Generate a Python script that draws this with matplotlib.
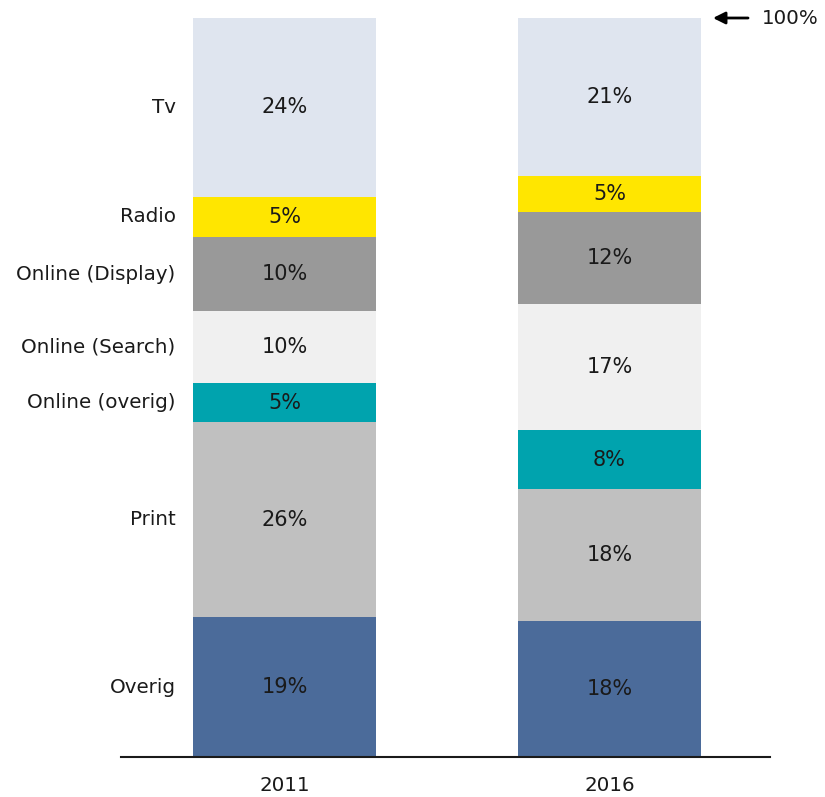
import matplotlib
matplotlib.use("Agg")
import matplotlib.pyplot as plt

years = ["2011", "2016"]
categories = ["Overig", "Print", "Online (overig)", "Online (Search)",
              "Online (Display)", "Radio", "Tv"]
share_2011 = [18.9, 26.4, 5.3, 9.7, 10.1, 5.4, 24.2]
share_2016 = [18.4, 17.8, 8.0, 17.1, 12.4, 4.9, 21.4]
colors = ["#4B6B9A", "#C0C0C0", "#00A3AE", "#F0F0F0",
          "#999999", "#FFE600", "#DFE5EF"]

W, H = 825, 797
fig = plt.figure(figsize=(W / 100, H / 100), dpi=100)
ax = fig.add_axes([121 / W, 1 - 757 / H, (770 - 121) / W, (757 - 18) / H])

series = [share_2011, share_2016]
xpos = [0, 1]
width = 0.563
font = "DejaVu Sans"
ink = "#1a1a1a"

for xi, vals in zip(xpos, series):
    bottom = 0
    for v, c in zip(vals, colors):
        ax.bar(xi, v, width=width, bottom=bottom, color=c, edgecolor="none")
        ax.text(xi, bottom + v / 2, f"{v:.0f}%", ha="center", va="center",
                fontsize=15, color=ink, family=font)
        bottom += v

# Category names beside the first bar
bottom = 0
for name, v in zip(categories, share_2011):
    ax.text(-0.335, bottom + v / 2, name, ha="right", va="center",
            fontsize=14.3, color=ink, family=font)
    bottom += v

ax.set_xlim(-0.503, 1.494)
ax.set_ylim(0, 100)
ax.set_xticks(xpos)
ax.set_xticklabels(years, fontsize=14.3, color=ink, family=font)
ax.tick_params(axis="x", length=0, pad=14)
ax.set_yticks([])
for s in ["top", "left", "right"]:
    ax.spines[s].set_visible(False)
ax.spines["bottom"].set_linewidth(1.5)
ax.spines["bottom"].set_color(ink)

# 100% marker at the top right
ax.annotate("", xy=(1.31, 100), xytext=(1.435, 100),
            arrowprops=dict(arrowstyle="-|>", color="black", lw=2.0,
                            mutation_scale=18),
            annotation_clip=False)
ax.text(1.47, 100, "100%", ha="left", va="center", fontsize=14.3,
        color=ink, family=font, clip_on=False)

fig.savefig("out.png", dpi=100)
